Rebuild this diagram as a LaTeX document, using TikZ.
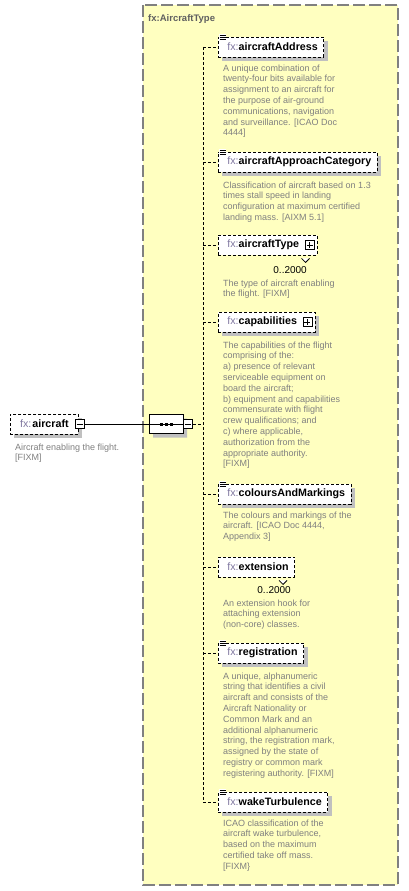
\documentclass[tikz,border=0pt]{standalone}
\usepackage{fontspec}
\setmainfont{Liberation Sans}
\usetikzlibrary{shadows,calc,shapes.misc,backgrounds}
\definecolor{yfill}{HTML}{FFFFC0}
\definecolor{ybord}{HTML}{808080}
\definecolor{desc}{HTML}{808080}
\definecolor{fxc}{HTML}{8078A0}
\definecolor{shad}{HTML}{C0C0C0}
\definecolor{ttl}{HTML}{606060}
\newcommand\fxn[1]{\textcolor{fxc}{fx:}\textbf{#1}}
\newcommand\dl[1]{\begin{tabular}[t]{@{}l@{}}#1\end{tabular}}
\tikzset{
  elem/.style={draw, dash pattern=on 3pt off 2pt, fill=white, minimum height=20pt,
    inner xsep=6pt, inner ysep=0pt, anchor=west, line width=0.8pt,
    font=\fontsize{10.7}{12}\selectfont,
    drop shadow={shadow xshift=4pt, shadow yshift=-4pt, fill=shad, opacity=1}},
  elemns/.style={draw, dash pattern=on 3pt off 2pt, fill=white, minimum height=20pt,
    inner xsep=6pt, inner ysep=0pt, anchor=west, line width=0.8pt,
    font=\fontsize{10.7}{12}\selectfont},
  descr/.style={anchor=base west, inner sep=0pt, text=desc,
    font=\fontsize{9}{10.8}\selectfont},
  occ/.style={anchor=base east, inner sep=0pt, font=\fontsize{10}{12}\selectfont},
  conn/.style={draw, dash pattern=on 3pt off 2pt, line width=0.8pt},
  pbox/.style={draw, fill=white, minimum size=9pt, inner sep=0pt, line width=0.7pt},
}
\newcommand\simpicon[1]{%
  \fill[white] ($(#1.north west)+(1,-3)$) rectangle ($(#1.north west)+(8,3.5)$);
  \foreach \d in {-1.5,0.5,2.5}
    \draw[line width=0.8pt] ($(#1.north west)+(1.5,\d)$) -- ($(#1.north west)+(7.5,\d)$);}
\newcommand\plusbox[1]{%
  \node[pbox] (#1p) at ($(#1.east)+(-8,0)$) {};
  \draw[line width=0.7pt] ($(#1p.center)+(-3,0)$) -- ($(#1p.center)+(3,0)$)
                          ($(#1p.center)+(0,-3)$) -- ($(#1p.center)+(0,3)$);}
\newcommand\backbox[1]{%
  \begin{scope}[on background layer]
  \fill[shad] ($(#1.north west)+(7,7)$) rectangle ($(#1.south east)+(7,7)$);
  \draw[dash pattern=on 3pt off 2pt, line width=0.8pt, fill=white]
     ($(#1.north west)+(3,3)$) rectangle ($(#1.south east)+(3,3)$);
  \end{scope}
  \draw[line width=0.8pt, fill=white] ($(#1.south east)+(-16,3)$) -- ($(#1.south east)+(-12,7)$) -- ($(#1.south east)+(-8,3)$);}
\begin{document}
\begin{tikzpicture}[x=1pt,y=-1pt]
\useasboundingbox (0,0) rectangle (409,891);
\fill[white] (0,0) rectangle (409,891);
% type box
\draw[ybord, fill=yfill, dash pattern=on 12pt off 4pt, line width=1.3pt] (143,5) rectangle (398,885);
\node[anchor=base west, inner sep=0pt, text=ttl, font=\fontsize{9.5}{11}\selectfont\bfseries] (title) at (148,21.5) {fx:AircraftType};
% spine
\coordinate (sp) at (203,0);
% root element
\node[elem, minimum width=68pt] (ac) at (10,424) {\fxn{\kern1pt aircraft}};
\node[pbox] (acm) at (79.5,424) {};
\draw[line width=0.7pt] ($(acm.center)+(-3,0)$) -- ($(acm.center)+(3,0)$);
\node[descr] (acd) at (15,450) {\dl{Aircraft enabling the flight.\\{}[FIXM]}};
% sequence compositor
\node[chamfered rectangle, chamfered rectangle xsep=5pt, chamfered rectangle ysep=5pt, draw, fill=white,
  minimum width=34pt, minimum height=19pt, inner sep=0pt, line width=0.8pt,
  drop shadow={shadow xshift=4pt, shadow yshift=-4pt, fill=shad, opacity=1}] (seq) at (166,424) {};
\draw[line width=0.8pt] (seq.west) -- (seq.east);
\foreach \xx in {161,166,171} \fill (\xx-1.5,422.5) rectangle (\xx+1.5,425.5);
\node[pbox] (seqm) at (188,424) {};
\draw[line width=0.7pt] ($(seqm.center)+(-3,0)$) -- ($(seqm.center)+(3,0)$);
\draw[line width=0.8pt] (acm.east) -- (seq.west);
% children
\node[elem] (aa) at (218,47) {\kern3pt\fxn{aircraftAddress}};
\simpicon{aa}
\node[descr] (aad) at (223,71) {\dl{A unique combination of\\twenty-four bits available for\\assignment to an aircraft for\\the purpose of air-ground\\communications, navigation\\and surveillance. [ICAO Doc\\4444]}};

\node[elem] (aac) at (218,162) {\kern3pt\fxn{aircraftApproachCategory}};
\simpicon{aac}
\node[descr] (aacd) at (223,188) {\dl{Classification of aircraft based on 1.3\\times stall speed in landing\\configuration at maximum certified\\landing mass. [AIXM 5.1]}};

\node[elemns] (at) at (218,245) {\kern3pt\fxn{aircraftType}\kern12pt};
\backbox{at}
\plusbox{at}
\node[occ] (ato) at (307,273) {0..2000};
\node[descr] (atd) at (223,286) {\dl{The type of aircraft enabling\\the flight. [FIXM]}};

\node[elem] (cap) at (218,322) {\kern3pt\fxn{capabilities}\kern12pt};
\plusbox{cap}
\node[descr] (capd) at (223,348) {\dl{The capabilities of the flight\\comprising of the:\\a) presence of relevant\\serviceable equipment on\\board the aircraft;\\b) equipment and capabilities\\commensurate with flight\\crew qualifications; and\\c) where applicable,\\authorization from the\\appropriate authority.\\{}[FIXM]}};

\node[elem] (cam) at (218,494) {\kern3pt\fxn{coloursAndMarkings}};
\simpicon{cam}
\node[descr] (camd) at (223,518) {\dl{The colours and markings of the\\aircraft. [ICAO Doc 4444,\\Appendix 3]}};

\node[elemns] (ext) at (218,567) {\kern3pt\fxn{extension}};
\backbox{ext}
\node[occ] (exto) at (291,593) {0..2000};
\node[descr] (extd) at (223,606) {\dl{An extension hook for\\attaching extension\\(non-core) classes.}};

\node[elem] (reg) at (218,653) {\kern3pt\fxn{registration}};
\simpicon{reg}
\node[descr] (regd) at (223,679) {\dl{A unique, alphanumeric\\string that identifies a civil\\aircraft and consists of the\\Aircraft Nationality or\\Common Mark and an\\additional alphanumeric\\string, the registration mark,\\assigned by the state of\\registry or common mark\\registering authority. [FIXM]}};

\node[elem] (wt) at (218,802) {\kern3pt\fxn{wakeTurbulence}};
\simpicon{wt}
\node[descr] (wtd) at (223,826) {\dl{ICAO classification of the\\aircraft wake turbulence,\\based on the maximum\\certified take off mass.\\{}[FIXM\}}};

% connectors
\draw[conn] (seqm.east) -- (seqm.east -| sp);
\draw[conn] (aa.west -| sp) -- (wt.west -| sp);
\foreach \n in {aa,aac,at,cap,cam,ext,reg,wt}
  \draw[conn] (\n.west -| sp) -- (\n.west);
\end{tikzpicture}
\end{document}
